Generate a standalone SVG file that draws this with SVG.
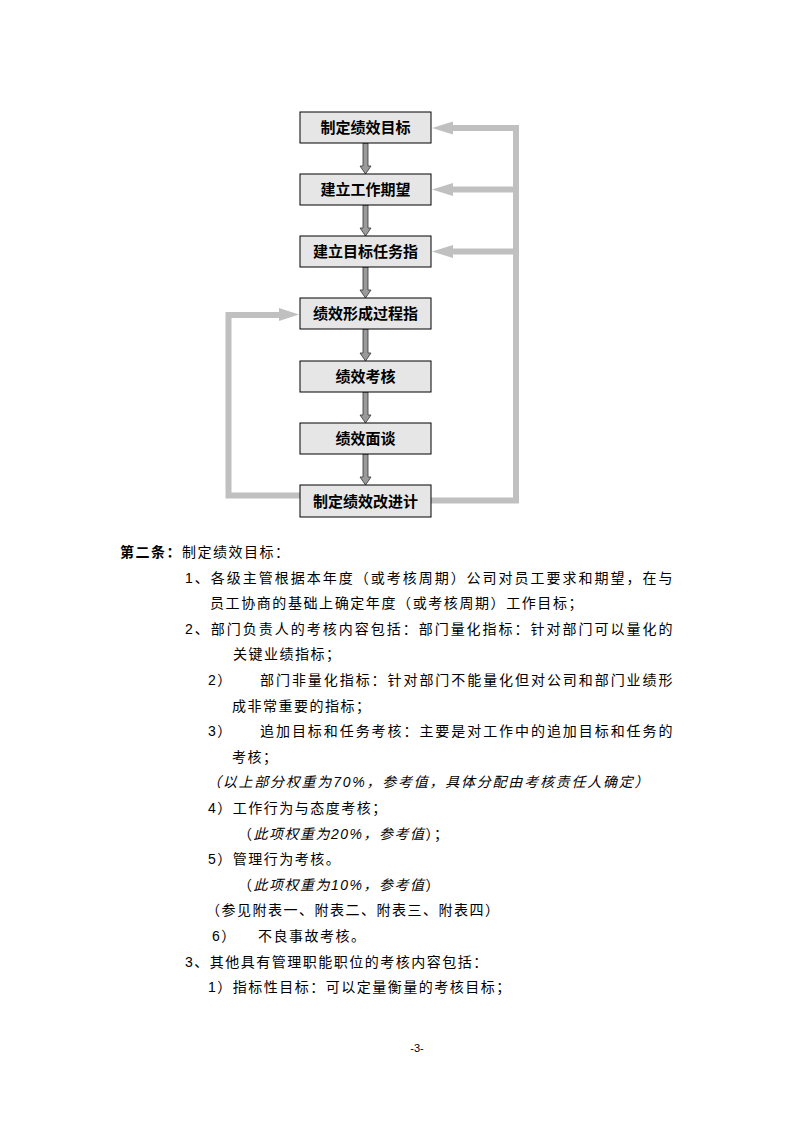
<svg xmlns="http://www.w3.org/2000/svg" width="794" height="1123" viewBox="0 0 794 1123">
<style>
.bg{fill:#ffffff}
.box{fill:#e6e6e6;stroke:#000;stroke-width:1}
.bt{font-family:"Liberation Sans","Noto Sans CJK SC",sans-serif;font-size:15px;font-weight:bold;fill:#000;text-anchor:middle}
.da{fill:#9a9a9a;stroke:#333;stroke-width:0.8}
.fb{fill:none;stroke:#c0c0c0;stroke-width:6;stroke-linejoin:miter}
.fh{fill:#c0c0c0}
.t{font-family:"Liberation Sans","Noto Sans CJK SC",sans-serif;font-size:14px;fill:#000;letter-spacing:1.5px}
.i{font-style:italic}
.b{font-weight:bold}
.pg{font-family:"Liberation Sans","Noto Sans CJK SC",sans-serif;font-size:11px;fill:#000;text-anchor:middle}
</style>
<rect class="bg" x="0" y="0" width="794" height="1123"/>

<g id="connectors">
  <!-- down arrows -->
  <polygon class="da" points="363,143 368,143 368,166 371,166 365.5,174 360,166 363,166"/>
  <polygon class="da" points="363,205 368,205 368,228 371,228 365.5,236 360,228 363,228"/>
  <polygon class="da" points="363,267 368,267 368,290 371,290 365.5,298 360,290 363,290"/>
  <polygon class="da" points="363,329 368,329 368,353 371,353 365.5,361 360,353 363,353"/>
  <polygon class="da" points="363,392 368,392 368,415 371,415 365.5,423 360,415 363,415"/>
  <polygon class="da" points="363,454 368,454 368,477 371,477 365.5,485 360,477 363,477"/>
  <!-- right feedback loop -->
  <path class="fb" d="M431,500.5 H516 V128 H450"/>
  <path class="fb" d="M516,189.5 H450"/>
  <path class="fb" d="M516,251.5 H450"/>
  <polygon class="fh" points="432,128 453,121.5 453,134.5"/>
  <polygon class="fh" points="432,189.5 453,183 453,196"/>
  <polygon class="fh" points="432,251.5 453,245 453,258"/>
  <!-- left feedback loop -->
  <path class="fb" d="M300,495.5 H228.5 V315 H281"/>
  <polygon class="fh" points="299,314.5 279,308 279,321"/>
</g>

<g id="n1"><rect class="box" x="300" y="112" width="131" height="31"/><text class="bt" x="365.5" y="133">制定绩效目标</text></g>
<g id="n2"><rect class="box" x="300" y="174" width="131" height="31"/><text class="bt" x="365.5" y="195">建立工作期望</text></g>
<g id="n3"><rect class="box" x="300" y="236" width="131" height="31"/><text class="bt" x="365.5" y="257">建立目标任务指</text></g>
<g id="n4"><rect class="box" x="300" y="298" width="131" height="31"/><text class="bt" x="365.5" y="319">绩效形成过程指</text></g>
<g id="n5"><rect class="box" x="300" y="361" width="131" height="31"/><text class="bt" x="365.5" y="382">绩效考核</text></g>
<g id="n6"><rect class="box" x="300" y="423" width="131" height="31"/><text class="bt" x="365.5" y="444">绩效面谈</text></g>
<g id="n7"><rect class="box" x="300" y="485" width="131" height="32"/><text class="bt" x="365.5" y="506.5">制定绩效改进计</text></g>

<g id="body">
  <text class="t" x="120" y="557"><tspan class="b">第二条：</tspan>制定绩效目标：</text>
  <text class="t" x="185" y="583" textLength="489" lengthAdjust="spacing">1、各级主管根据本年度（或考核周期）公司对员工要求和期望，在与</text>
  <text class="t" x="210" y="608" textLength="374" lengthAdjust="spacing">员工协商的基础上确定年度（或考核周期）工作目标；</text>
  <text class="t" x="185" y="634" textLength="489" lengthAdjust="spacing">2、部门负责人的考核内容包括：部门量化指标：针对部门可以量化的</text>
  <text class="t" x="233" y="659">关键业绩指标；</text>
  <text class="t" x="208" y="685">2）</text>
  <text class="t" x="260" y="685" textLength="414" lengthAdjust="spacing">部门非量化指标：针对部门不能量化但对公司和部门业绩形</text>
  <text class="t" x="232" y="711">成非常重要的指标；</text>
  <text class="t" x="208" y="736">3）</text>
  <text class="t" x="260" y="736" textLength="414" lengthAdjust="spacing">追加目标和任务考核：主要是对工作中的追加目标和任务的</text>
  <text class="t" x="232" y="762">考核；</text>
  <text class="t i" x="207" y="787" textLength="443" lengthAdjust="spacing">（以上部分权重为70%，参考值，具体分配由考核责任人确定）</text>
  <text class="t" x="208" y="813">4）工作行为与态度考核；</text>
  <text class="t" x="238" y="839">（<tspan class="i">此项权重为20%，参考值</tspan>）；</text>
  <text class="t" x="208" y="864">5）管理行为考核。</text>
  <text class="t" x="238" y="890">（<tspan class="i">此项权重为10%，参考值</tspan>）</text>
  <text class="t" x="206" y="915">（参见附表一、附表二、附表三、附表四）</text>
  <text class="t" x="212" y="941">6）</text>
  <text class="t" x="258" y="941">不良事故考核。</text>
  <text class="t" x="185" y="967">3、其他具有管理职能职位的考核内容包括：</text>
  <text class="t" x="208" y="992">1）指标性目标：可以定量衡量的考核目标；</text>
  <text class="pg" x="417" y="1052">-3-</text>
</g>
</svg>
